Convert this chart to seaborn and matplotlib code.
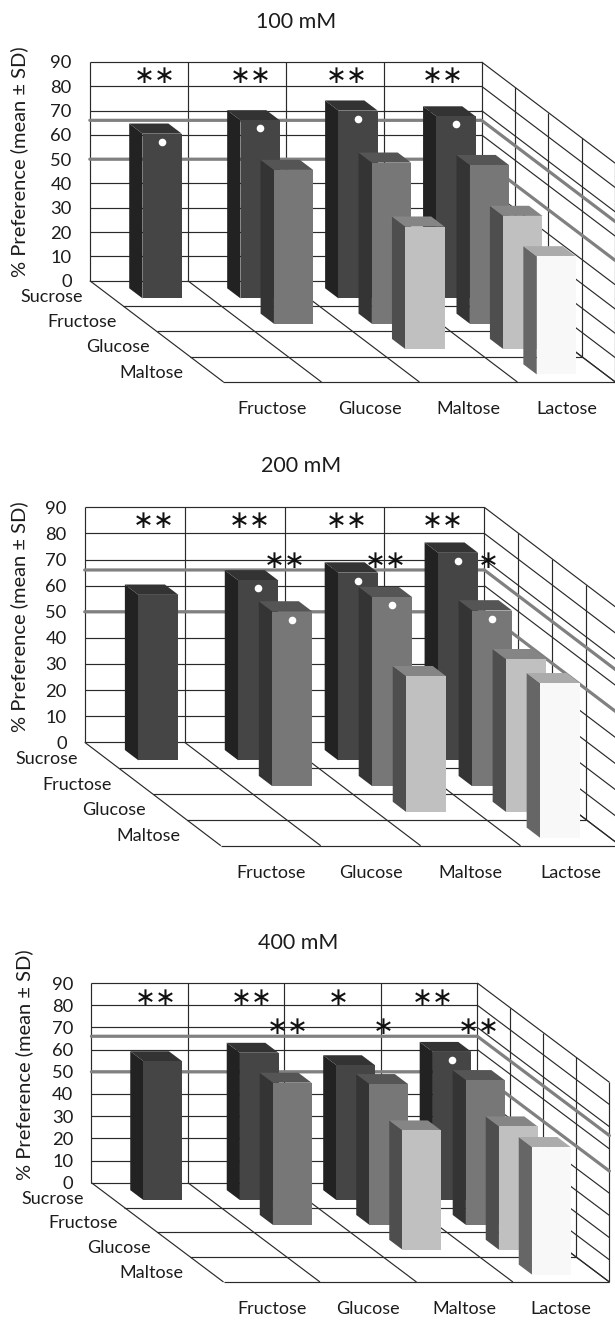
import matplotlib
matplotlib.use("Agg")
import matplotlib.pyplot as plt
import numpy as np
import seaborn as sns

# ---- data -----------------------------------------------------------
titles = ["100 mM", "200 mM", "400 mM"]
columns = ["Fructose", "Glucose", "Maltose", "Lactose"]
rows = ["Sucrose", "Fructose", "Glucose", "Maltose"]
y_ticks = [0, 10, 20, 30, 40, 50, 60, 70, 80, 90]
reference_levels = [50, 66]

# values[row][column]; None = no bar in that cell
values_100 = [[67.8, 73.3, 77.3, 74.9],
              [None, 63.3, 66.3, 65.3],
              [None, None, 50.4, 54.8],
              [None, None, None, 48.6]]
values_200 = [[63.4, 68.9, 71.9, 79.5],
              [None, 66.9, 72.4, 67.3],
              [None, None, 52.0, 58.5],
              [None, None, None, 59.2]]
values_400 = [[62.6, 66.4, 60.8, 66.8],
              [None, 64.1, 63.5, 65.3],
              [None, None, 53.8, 55.6],
              [None, None, None, 57.5]]

# (row, column) of bars carrying a white dot
dots_100 = [(0, 0), (0, 1), (0, 2), (0, 3)]
dots_200 = [(0, 1), (0, 2), (0, 3), (1, 1), (1, 2), (1, 3)]
dots_400 = [(0, 3)]

# significance marks: (column position, level, text)
stars_100 = [(0.666, 84.1, "∗∗"), (1.647, 84.1, "∗∗"), (2.627, 84.1, "∗∗"), (3.608, 84.1, "∗∗")]
stars_200 = [(0.694, 84.8, "∗∗"), (1.655, 84.8, "∗∗"), (2.62, 84.8, "∗∗"), (3.58, 84.8, "∗∗"),
             (2.005, 69.6, "∗∗"), (3.016, 69.6, "∗∗"), (4.04, 69.6, "∗")]
stars_400 = [(0.666, 83.2, "∗∗"), (1.662, 83.2, "∗∗"), (2.555, 83.2, "∗"), (3.54, 83.2, "∗∗"),
             (2.037, 70.2, "∗∗"), (3.03, 70.2, "∗"), (4.017, 70.2, "∗∗")]

# ---- layout ---------------------------------------------------------
W, H = 615, 1320
# left/right of back wall, y of 90 and 0, front-left floor corner, axes band, title, ylabel
layouts = [
    dict(L=89.8, R=481.6, y90=62.0, y0=280.7, fx=223.5, fy=382.0, band=(0, 440),
         title=(296, 22), ylab=(19.6, 162)),
    dict(L=84.7, R=484.3, y90=507.3, y0=742.3, fx=220.8, fy=845.7, band=(440, 905),
         title=(301, 466), ylab=(19.6, 616.7)),
    dict(L=91.4, R=477.3, y90=983.0, y0=1182.7, fx=223.5, fy=1282.0, band=(905, 1320),
         title=(298, 942.7), ylab=(24.0, 1065)),
]
FRONT = ["#454545", "#777777", "#c0c0c0", "#f8f8f8"]
SIDE = ["#222222", "#343434", "#4e4e4e", "#666666"]
TOP = ["#333333", "#555555", "#858585", "#ababab"]
LINE = "#2a2a2a"
BAR = 0.4

sns.set_theme(style="white", rc={"axes.facecolor": "none"})
plt.rcParams["font.family"] = ["Lato", "DejaVu Sans"]
TXT = "#1c1c1c"
fig = plt.figure(figsize=(W / 100, H / 100), dpi=100, facecolor="white")


def draw_panel(lay, title, values, dots, stars):
    colw = (lay["R"] - lay["L"]) / 4
    pu = (lay["y0"] - lay["y90"]) / 90
    kx = (lay["fx"] - lay["L"]) / 4 / colw
    ky = (lay["fy"] - lay["y0"]) / 4 / pu
    top, bot = lay["band"]
    ax = fig.add_axes([0, 1 - bot / H, 1, (bot - top) / H])

    def pr(c, d, v):
        return c + d * kx, v - d * ky

    def seg(a, b, **kw):
        ax.plot(*zip(a, b), **kw)

    gk = dict(color=LINE, lw=0.85, zorder=1, solid_capstyle="butt")
    for v in y_ticks:
        seg(pr(0, 0, v), pr(4, 0, v), **gk)
        seg(pr(4, 0, v), pr(4, 4, v), **gk)
    for c in range(5):
        seg(pr(c, 0, 0), pr(c, 0, 90), **gk)
        seg(pr(c, 0, 0), pr(c, 4, 0), **gk)
    for d in range(1, 5):
        seg(pr(0, d, 0), pr(4, d, 0), **gk)
        seg(pr(4, d, 0), pr(4, d, 90), **gk)
    for lv in reference_levels:
        pts = [pr(0, 0, lv), pr(4, 0, lv), pr(4, 4, lv)]
        ax.plot(*zip(*pts), color="#808080", lw=2.3, zorder=1.5, solid_joinstyle="miter")

    for cs, lv, s in stars:
        ax.text(cs, lv, s, ha="center", va="center", fontsize=18, color="#111111",
                family="DejaVu Sans", zorder=1.8)

    z = 2
    for r, rowvals in enumerate(values):
        d0, d1 = r + (1 - BAR) / 2, r + (1 + BAR) / 2
        for c, v in enumerate(rowvals):
            if v is None:
                continue
            x0, x1 = c + (1 - BAR) / 2, c + (1 + BAR) / 2
            ax.fill(*zip(pr(x0, d0, 0), pr(x0, d1, 0), pr(x0, d1, v), pr(x0, d0, v)),
                    color=SIDE[r], lw=0, zorder=z)
            ax.fill(*zip(pr(x0, d0, v), pr(x1, d0, v), pr(x1, d1, v), pr(x0, d1, v)),
                    color=TOP[r], lw=0, zorder=z)
            cx, base = pr(c + 0.5, d1, 0)
            sns.barplot(x=[cx], y=[v], bottom=base, width=BAR, native_scale=True, orient="x",
                        color=FRONT[r], saturation=1, linewidth=0, errorbar=None,
                        ax=ax, zorder=z)
            z += 1

    dx, dy = zip(*[pr(c + 0.5, r + (1 + BAR) / 2, values[r][c] - 8 / pu) for r, c in dots])
    sns.scatterplot(x=list(dx), y=list(dy), color="white", s=30, linewidth=0, ax=ax,
                    zorder=z, legend=False)

    ax.set_xlim(-lay["L"] / colw, (W - lay["L"]) / colw)
    ax.set_ylim((lay["y0"] - bot) / pu, (lay["y0"] - top) / pu)
    for name, sp in ax.spines.items():
        sp.set_visible(False)
    ax.spines["left"].set_position(("data", 0))
    ax.spines["bottom"].set_position(("data", -4 * ky))
    ax.set_xlabel("")
    ax.set_ylabel("")
    ax.set_yticks(y_ticks, [str(t) for t in y_ticks])
    ax.set_xticks([c + 0.5 + 4 * kx for c in range(4)], columns)
    ax.tick_params(axis="y", length=0, pad=13, labelsize=13.2, labelcolor=TXT)
    ax.tick_params(axis="x", length=0, pad=14, labelsize=13, labelcolor=TXT)

    for r, name in enumerate(rows):
        ax.annotate(name, pr(0, r + 0.5, 0), xytext=(-17, -2.5), textcoords="offset points",
                    ha="right", va="center", fontsize=13, color=TXT)

    to_data = lambda px, py: ((px - lay["L"]) / colw, (lay["y0"] - py) / pu)
    ax.text(*to_data(*lay["title"]), title, ha="center", va="center", fontsize=15.5, color=TXT)
    ax.text(*to_data(*lay["ylab"]), "% Preference (mean ± SD)", rotation=90, ha="center",
            va="center", fontsize=14.5, color=TXT)


for lay, t, vals, dts, sts in zip(layouts, titles,
                                  [values_100, values_200, values_400],
                                  [dots_100, dots_200, dots_400],
                                  [stars_100, stars_200, stars_400]):
    draw_panel(lay, t, vals, dts, sts)

fig.savefig("out.png", dpi=100, facecolor="white")
